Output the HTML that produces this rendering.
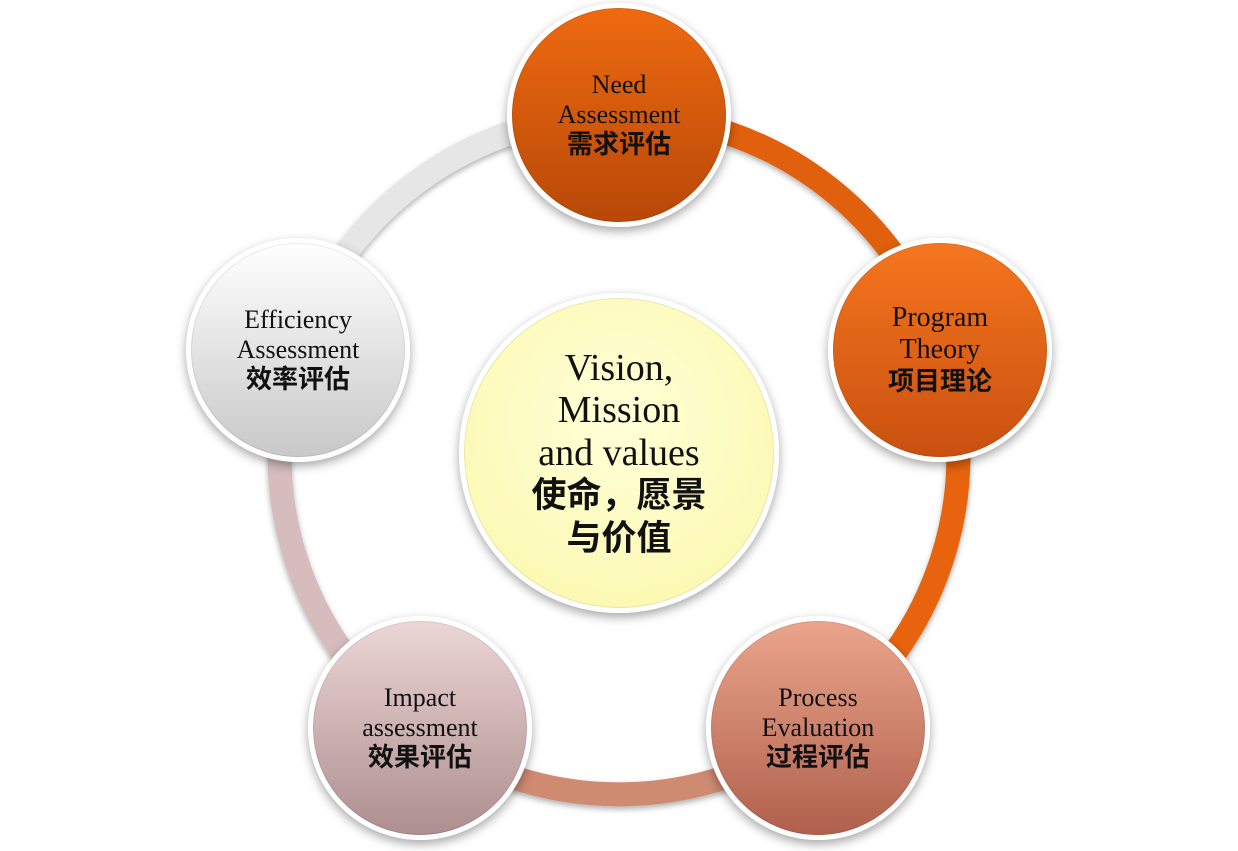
<!DOCTYPE html>
<html><head><meta charset="utf-8"><style>
html,body{margin:0;padding:0;background:#fff;}
body{width:1238px;height:851px;position:relative;overflow:hidden;font-family:"Liberation Serif","Noto Sans CJK SC",serif;}
.c{position:absolute;border-radius:50%;box-sizing:border-box;border:5px solid #fff;display:flex;align-items:center;justify-content:center;text-align:center;box-shadow:0 4px 10px rgba(0,0,0,0.35), inset 0 0 0 1px rgba(0,0,0,0.08);color:#111;line-height:1.15;}
.n{width:224px;height:224px;font-size:26px;}
.z{font-weight:bold;}
</style></head><body>
<svg width="1238" height="851" style="position:absolute;left:0;top:0">
<defs>
<filter id="sh"><feDropShadow dx="0" dy="3" stdDeviation="3" flood-opacity="0.3"/></filter>
</defs>
<g fill="none" stroke-width="24" filter="url(#sh)">
<path d="M619,115 A340,340 0 0 1 942,350" stroke="#e0600c"/>
<path d="M942,350 A340,340 0 0 1 818,730" stroke="#e8640f"/>
<path d="M818,730 A340,340 0 0 1 420,730" stroke="#cf8a72"/>
<path d="M420,730 A340,340 0 0 1 296,350" stroke="#d6bcbc"/>
<path d="M296,350 A340,340 0 0 1 619,115" stroke="#e6e6e6"/>
</g>
</svg>
<div class="c" style="left:459px;top:293px;width:320px;height:320px;background:radial-gradient(circle at 50% 40%,#ffffd8,#fbf7a8);font-size:38px;line-height:1.12;"><div>Vision,<br>Mission<br>and values<br><span class="z" style="font-size:35px">使命，愿景<br>与价值</span></div></div>
<div class="c n" style="left:507px;top:3px;background:linear-gradient(#ee6a10,#b84808);"><div>Need<br>Assessment<br><span class="z">需求评估</span></div></div>
<div class="c n" style="left:828px;top:238px;background:linear-gradient(#f5761e,#c95010);font-size:28px;"><div>Program<br>Theory<br><span class="z" style="font-size:26px">项目理论</span></div></div>
<div class="c n" style="left:706px;top:616px;background:linear-gradient(#eaa58c,#b0604c);"><div>Process<br>Evaluation<br><span class="z">过程评估</span></div></div>
<div class="c n" style="left:308px;top:616px;background:linear-gradient(#ecd6d6,#ae8e8e);"><div>Impact<br>assessment<br><span class="z">效果评估</span></div></div>
<div class="c n" style="left:186px;top:238px;background:linear-gradient(#ffffff,#c8c8c8);"><div>Efficiency<br>Assessment<br><span class="z">效率评估</span></div></div>
</body></html>
